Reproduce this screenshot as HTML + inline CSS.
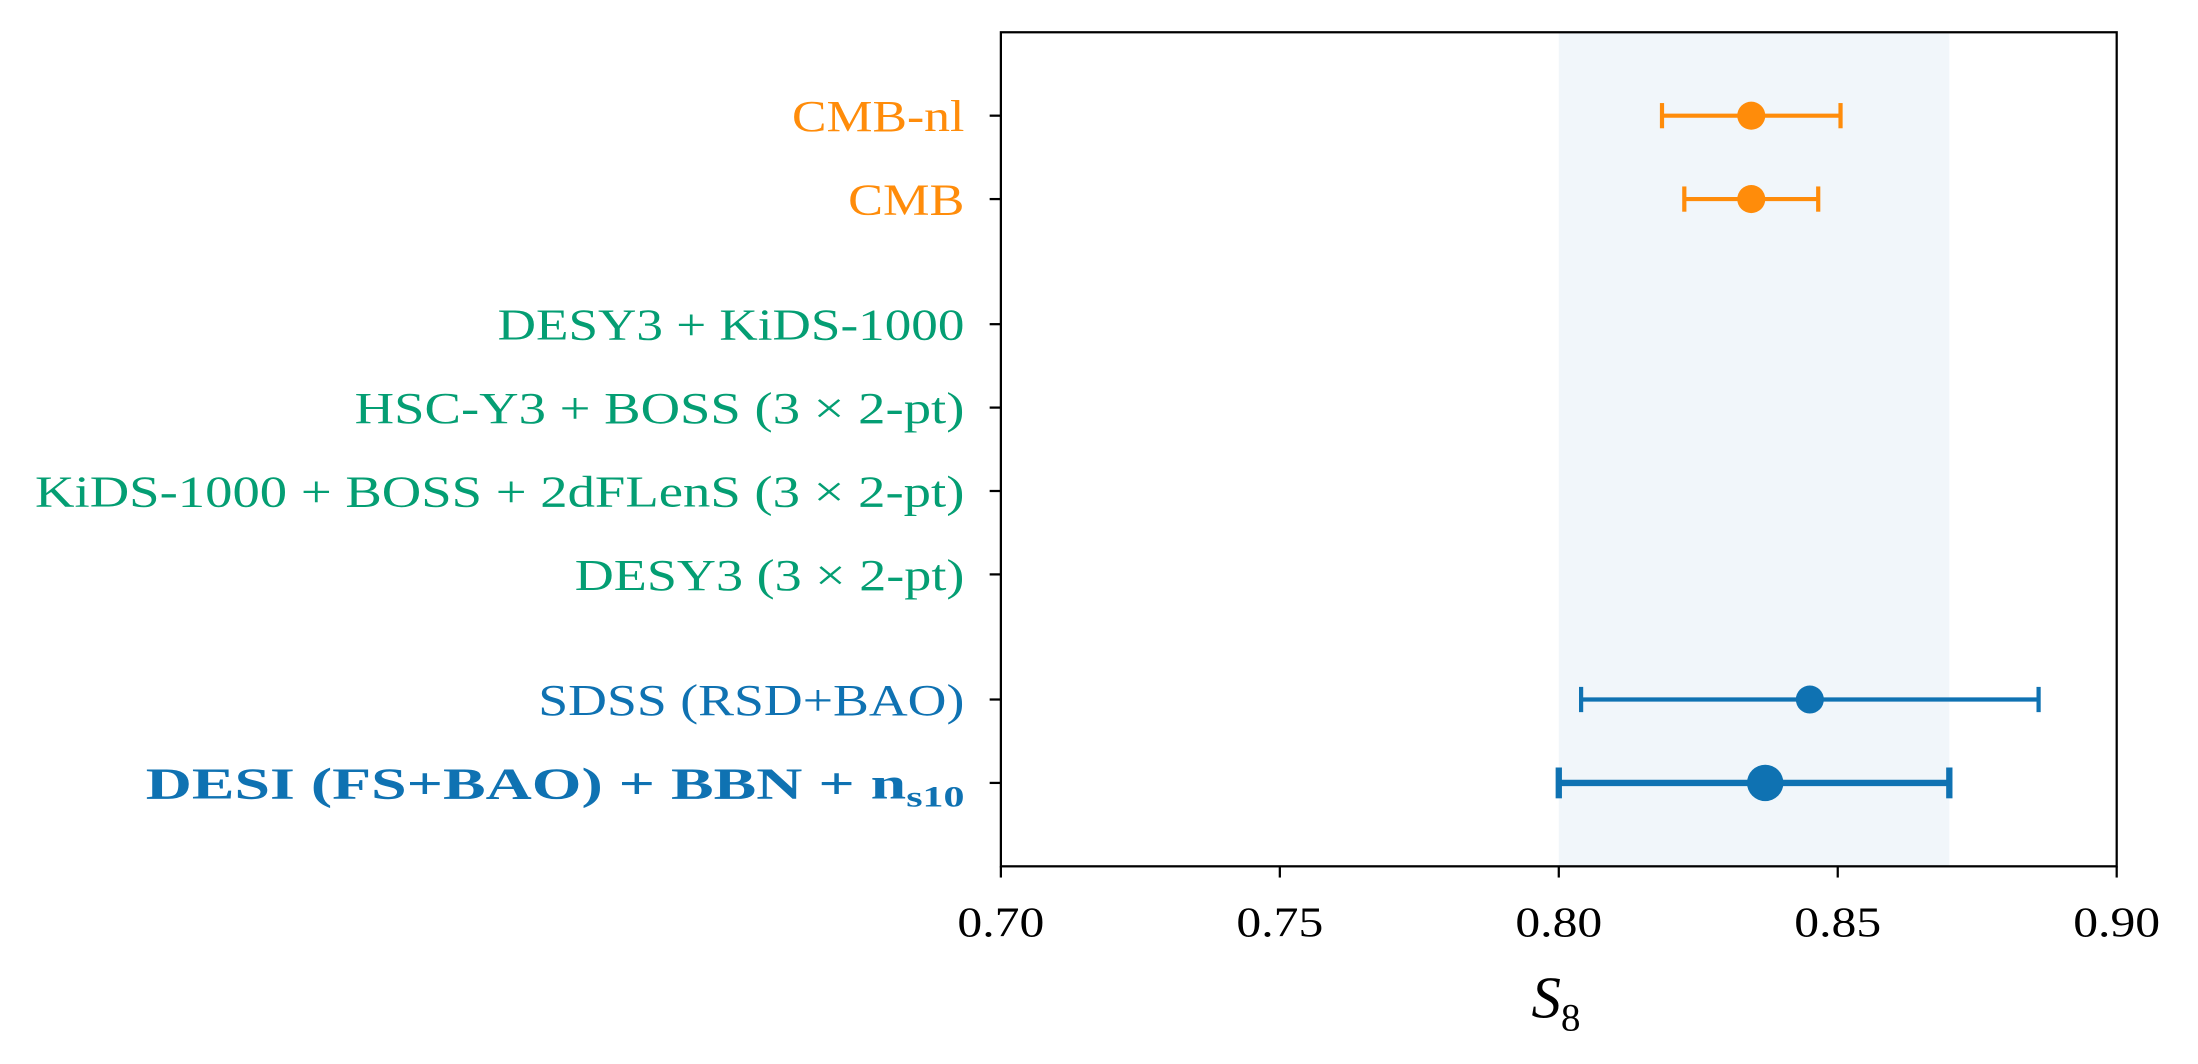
<!DOCTYPE html>
<html><head><meta charset="utf-8"><style>
html,body{margin:0;padding:0;background:#fff;}
svg{display:block;font-family:"Liberation Serif",serif;}
</style></head><body>
<svg id="chart" width="2198" height="1064" viewBox="0 0 1568 759" xmlns="http://www.w3.org/2000/svg">
<rect id="band" fill="#dbe8f3" fill-opacity="0.4"/>
<g id="marks"></g>
<rect x="714" y="23" width="796" height="595" fill="none" stroke="#000" stroke-width="1.6"/>
<g id="yaxis"></g>
<g id="xaxis"></g>
<text x="1110" y="726" font-size="42" font-style="italic" text-anchor="middle">S<tspan font-size="28" font-style="normal" dy="9">8</tspan></text>
</svg>
<script>
const labels=["CMB-nl","CMB","DESY3 + KiDS-1000","HSC-Y3 + BOSS (3 × 2-pt)","KiDS-1000 + BOSS + 2dFLenS (3 × 2-pt)","DESY3 (3 × 2-pt)","SDSS (RSD+BAO)","DESI (FS+BAO) + BBN + n"];
const rows=[8,7,5.5,4.5,3.5,2.5,1,0];
const centers=[0.8345,0.8345,null,null,null,null,0.845,0.837];
const lows=[0.8185,0.8225,null,null,null,null,0.804,0.800];
const highs=[0.8505,0.8465,null,null,null,null,0.886,0.870];
const groups=["orange","orange","green","green","green","green","blue","blue"];
const xticks=[0.70,0.75,0.80,0.85,0.90];
const bandRange=[0.80,0.87];
const labelWidthsPx=[123,83,333,435,663,278,304,584];
const colors={orange:"#ff8c0a",green:"#049e73",blue:"#0f72b2"};
const X=v=>714+(v-0.70)/0.20*796;
const Y=r=>618-(r+1)/10*595;
const NS="http://www.w3.org/2000/svg";
function mk(t,a,p){const e=document.createElementNS(NS,t);for(const k in a)e.setAttribute(k,a[k]);p.appendChild(e);return e;}
const band=document.getElementById('band');
band.setAttribute('x',X(bandRange[0]));band.setAttribute('width',X(bandRange[1])-X(bandRange[0]));
band.setAttribute('y',23);band.setAttribute('height',595);
const ya=document.getElementById('yaxis'),xa=document.getElementById('xaxis'),mg=document.getElementById('marks');
labels.forEach((l,i)=>{
  const y=Y(rows[i]);
  const tk=mk('line',{x1:706,x2:714,y1:y,y2:y,stroke:'#000','stroke-width':1.6},ya);
  
  
  const bold=i===7;
  const t=mk('text',{x:688,y:y+11,'text-anchor':'end','font-size':32,textLength:labelWidthsPx[i],lengthAdjust:'spacingAndGlyphs',fill:colors[groups[i]],'font-weight':bold?'bold':'normal'},ya);
  t.textContent=l;
  if(bold){const s=mk('tspan',{'font-size':21,dy:6},t);s.textContent='s10';}
  
  
  if(centers[i]!==null){
    const g=mk('g',{},mg);
    
    
    const c=colors[groups[i]],w=bold?4.5:3,cap=bold?11:9,r=bold?13:10;
    mk('line',{x1:X(lows[i]),x2:X(highs[i]),y1:y,y2:y,stroke:c,'stroke-width':w},g);
    mk('line',{x1:X(lows[i]),x2:X(lows[i]),y1:y-cap,y2:y+cap,stroke:c,'stroke-width':w},g);
    mk('line',{x1:X(highs[i]),x2:X(highs[i]),y1:y-cap,y2:y+cap,stroke:c,'stroke-width':w},g);
    mk('circle',{cx:X(centers[i]),cy:y,r:r,fill:c},g);
  }
});
xticks.forEach(v=>{
  const x=X(v);
  const tk=mk('line',{x1:x,x2:x,y1:618,y2:626,stroke:'#000','stroke-width':1.6},xa);
  
  
  const t=mk('text',{x:x,y:668,'text-anchor':'middle','font-size':30,textLength:62,lengthAdjust:'spacingAndGlyphs'},xa);
  t.textContent=v.toFixed(2);
  
  
});
</script>
</body></html>
